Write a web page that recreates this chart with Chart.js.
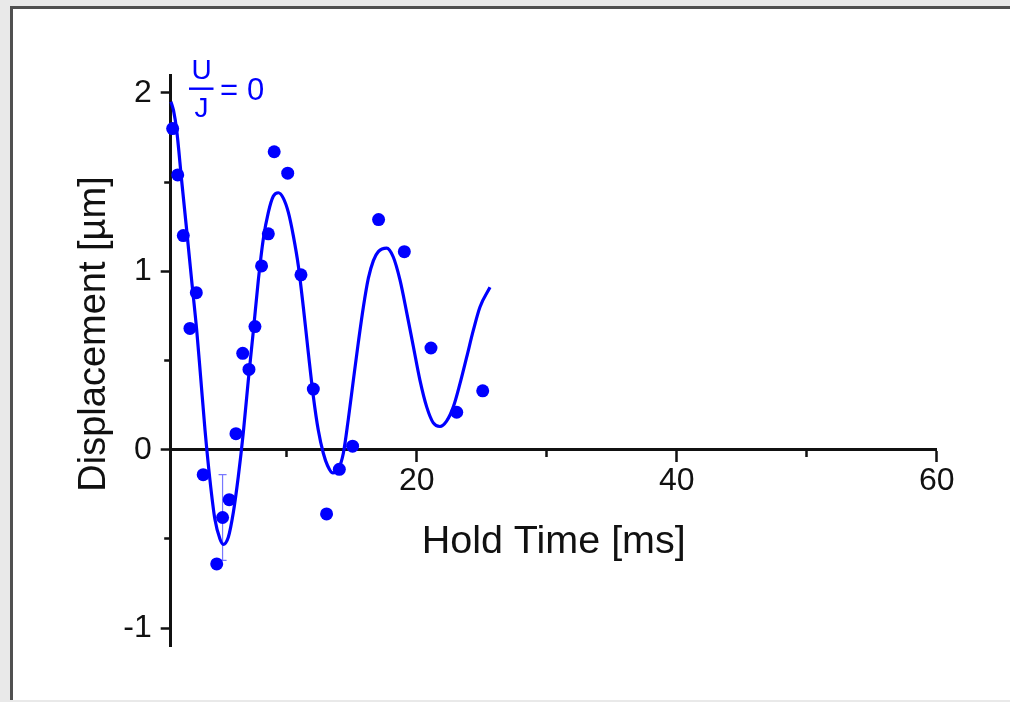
<!DOCTYPE html>
<html>
<head>
<meta charset="utf-8">
<script src="https://cdn.jsdelivr.net/npm/chart.js@4.4.1/dist/chart.umd.min.js"></script>
<style>
  html, body { margin: 0; padding: 0; }
  body { width: 1010px; height: 702px; background: #e9e9e9; position: relative; overflow: hidden; }
  #panel { position: absolute; left: 10px; top: 6px; width: 1000px; height: 694px; background: #fff;
    border-left: 3px solid #505050; border-top: 3px solid #505050; box-sizing: border-box; }
  #myChart { position: absolute; left: 0; top: 0; }
</style>
</head>
<body>
<div id="panel"></div>
<canvas id="myChart" width="1010" height="702"></canvas>
<script>
// measured points
const holdTime = [1.23, 1.62, 2.05, 2.56, 3.05, 3.58, 4.62, 5.07, 5.58, 6.1, 6.62, 7.1, 7.56, 8.07, 8.59,
  9.04, 10.08, 11.1, 12.05, 13.07, 14.05, 15.07, 17.07, 19.05, 21.1, 23.08, 25.08];
const displacement = [1.80, 1.54, 1.20, 0.68, 0.88, -0.14, -0.64, -0.38, -0.28, 0.09, 0.54, 0.45, 0.69, 1.03, 1.21,
  1.67, 1.55, 0.98, 0.34, -0.36, -0.11, 0.02, 1.29, 1.11, 0.57, 0.21, 0.33];

// fit curve
const fitTime = [1.1, 1.3, 1.54, 1.92, 2.31, 2.69, 3.08, 3.38, 3.72, 4.1, 4.48, 4.87, 5.12, 5.51, 5.9,
  6.28, 6.67, 7.05, 7.43, 7.82, 8.2, 8.59, 8.97, 9.36, 9.74, 10.13, 10.51, 10.9, 11.28, 11.67,
  12.05, 12.43, 12.82, 13.15, 13.54, 13.97, 14.36, 14.74, 15.13, 15.51, 15.9, 16.28, 16.67, 17.05, 17.69,
  18.2, 18.72, 19.23, 19.74, 20.25, 20.77, 21.28, 21.79, 22.3, 22.82, 23.33, 23.85, 24.36, 24.87, 25.64];
const fitDisp = [1.95, 1.9, 1.79, 1.51, 1.23, 0.95, 0.67, 0.41, 0.11, -0.17, -0.39, -0.5, -0.53, -0.49, -0.35,
  -0.15, 0.1, 0.39, 0.66, 0.95, 1.18, 1.33, 1.42, 1.44, 1.41, 1.33, 1.2, 1.03, 0.8, 0.54,
  0.3, 0.11, -0.02, -0.09, -0.13, -0.11, -0.02, 0.17, 0.39, 0.60, 0.80, 0.96, 1.06, 1.11, 1.13,
  1.08, 0.95, 0.77, 0.58, 0.39, 0.24, 0.15, 0.13, 0.16, 0.24, 0.37, 0.52, 0.67, 0.80, 0.91];

// single error bar
const errTime = [5.07];
const errLow = [-0.62];
const errHigh = [-0.14];

Chart.defaults.font.family = "'Liberation Sans', Arial, sans-serif";
Chart.defaults.color = "#111";

const extras = {
  id: "extras",
  beforeDatasetsDraw(chart) {
    const ctx = chart.ctx;
    const xs = chart.scales.x, ys = chart.scales.y;
    ctx.save();
    ctx.strokeStyle = "#7878ff";
    ctx.lineWidth = 1.2;
    errTime.forEach((t, i) => {
      const px = xs.getPixelForValue(t);
      const y1 = ys.getPixelForValue(errLow[i]);
      const y2 = ys.getPixelForValue(errHigh[i]);
      ctx.beginPath();
      ctx.moveTo(px, y1); ctx.lineTo(px, y2);
      ctx.moveTo(px - 4, y1); ctx.lineTo(px + 4, y1);
      ctx.moveTo(px - 4, y2); ctx.lineTo(px + 4, y2);
      ctx.stroke();
    });
    ctx.restore();
  },
  afterDraw(chart) {
    const ctx = chart.ctx;
    ctx.save();
    // y axis title
    ctx.translate(95, 334);
    ctx.rotate(-Math.PI / 2);
    ctx.font = "38px 'Liberation Sans', Arial, sans-serif";
    ctx.fillStyle = "#111";
    ctx.textAlign = "center";
    ctx.textBaseline = "middle";
    ctx.fillText("Displacement [µm]", 0, 0);
    ctx.restore();

    // U/J = 0 label
    ctx.save();
    ctx.fillStyle = "#0000ff";
    ctx.textAlign = "center";
    ctx.textBaseline = "alphabetic";
    ctx.font = "28px 'Liberation Sans', Arial, sans-serif";
    ctx.fillText("U", 201.5, 79);
    ctx.fillText("J", 201.5, 117);
    ctx.fillRect(189, 87.5, 24.5, 2.4);
    ctx.font = "31px 'Liberation Sans', Arial, sans-serif";
    ctx.fillText("=", 229, 100);
    ctx.fillText("0", 255.5, 100);
    ctx.restore();
  },
};

const ctx = document.getElementById("myChart").getContext("2d");

const chart = new Chart(ctx, {
  type: "scatter",
  data: {
    datasets: [
      {
        data: fitTime.map((t, i) => ({ x: t, y: fitDisp[i] })),
        showLine: true,
        pointRadius: 0,
        pointHoverRadius: 0,
        borderColor: "#0000ff",
        borderWidth: 3.2,
        cubicInterpolationMode: "monotone",
        clip: false,
        order: 1,
      },
      {
        data: holdTime.map((t, i) => ({ x: t, y: displacement[i] })),
        pointRadius: 6.5,
        pointHoverRadius: 6.5,
        backgroundColor: "#0000ff",
        borderWidth: 0,
        clip: false,
        order: 0,
      },
    ],
  },
  options: {
    responsive: false,
    animation: false,
    layout: { padding: { left: 20, right: 73.3, top: 75, bottom: 56 } },
    plugins: { legend: { display: false }, tooltip: { enabled: false } },
    scales: {
      x: {
        type: "linear",
        position: { y: 0 },
        min: 1.08,
        max: 60,
        afterFit: (s) => { s.height = 116; },
        border: { color: "#111", width: 3 },
        grid: {
          drawOnChartArea: false,
          tickLength: 11,
          tickWidth: 2.5,
          tickColor: "#111",
          tickBorderDash: (c) => (c.tick && c.tick.value % 20 !== 0 ? [6, 30] : []),
        },
        ticks: {
          stepSize: 10,
          includeBounds: false,
          padding: 1,
          maxRotation: 0,
          autoSkip: false,
          font: { size: 32 },
          callback: (v) => (v % 20 === 0 ? v : ""),
        },
        title: { display: true, text: "Hold Time [ms]", font: { size: 39.5 }, padding: 0 },
      },
      y: {
        type: "linear",
        position: "left",
        min: -1.1,
        max: 2.1,
        afterFit: (s) => { s.width = 150.7; },
        border: { color: "#111", width: 3 },
        grid: {
          drawOnChartArea: false,
          tickLength: 10,
          tickWidth: 2.5,
          tickColor: "#111",
          tickBorderDash: (c) => (c.tick && !Number.isInteger(c.tick.value) ? [0, 3.5, 6, 40] : []),
        },
        ticks: {
          stepSize: 0.5,
          includeBounds: false,
          padding: 9,
          autoSkip: false,
          font: { size: 32 },
          callback: (v) => (Number.isInteger(v) ? v : ""),
        },
      },
    },
  },
  plugins: [extras],
});
</script>
</body>
</html>
